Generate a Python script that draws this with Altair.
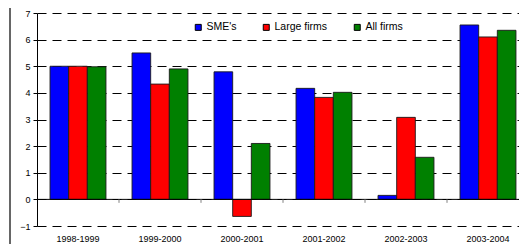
import altair as alt
import pandas as pd

periods = ["1998-1999", "1999-2000", "2000-2001", "2001-2002", "2002-2003", "2003-2004"]
series = ["SME's", "Large firms", "All firms"]
sme = [5.0, 5.5, 4.79, 4.17, 0.15, 6.55]
large = [5.0, 4.33, -0.64, 3.83, 3.08, 6.1]
all_firms = [4.98, 4.9, 2.1, 4.02, 1.58, 6.35]
colors = ["#0000FF", "#FF0000", "#008000"]
y_ticks = [-1, 0, 1, 2, 3, 4, 5, 6, 7]

rows = []
for name, vals in zip(series, [sme, large, all_firms]):
    for p, v in zip(periods, vals):
        rows.append({"period": p, "series": name, "value": v})
df = pd.DataFrame(rows)

FONT = "Liberation Sans"
xscale = alt.Scale(domain=periods, range=[0, 492], paddingInner=0, paddingOuter=0)
yscale = alt.Scale(domain=[-1, 7], nice=False, zero=False)
xaxis = alt.Axis(title=None, labelAngle=0, domain=False, ticks=False,
                 labelFontSize=9, labelPadding=8, labelColor="black", labelFont=FONT)
yaxis = alt.Axis(title=None, values=y_ticks, tickCount=9, grid=True, gridColor="black",
                 gridDash=[9, 6], gridWidth=1, domainColor="black", tickColor="black",
                 tickSize=4, labelPadding=3, labelFontSize=9, labelColor="black",
                 labelFont=FONT, format="d", labelOverlap=False)

bars = alt.Chart(df).mark_bar(stroke="#1a1a1a", strokeWidth=0.9).encode(
    x=alt.X("period:N", scale=xscale, sort=periods, axis=xaxis),
    xOffset=alt.XOffset("series:N", sort=series,
                        scale=alt.Scale(domain=series, paddingInner=0, paddingOuter=0.7)),
    y=alt.Y("value:Q", scale=yscale, axis=yaxis),
    color=alt.Color("series:N", sort=series, scale=alt.Scale(domain=series, range=colors),
                    legend=alt.Legend(title=None, orient="none", legendX=156, legendY=9,
                                      direction="horizontal", symbolType="square",
                                      symbolSize=36, symbolStrokeColor="black",
                                      symbolStrokeWidth=1, labelFontSize=10.5, labelFont=FONT,
                                      labelColor="black", labelOffset=3, columnPadding=24,
                                      padding=0)),
)

zero = alt.Chart(pd.DataFrame({"value": [0]})).mark_rule(color="black", strokeWidth=1).encode(
    y=alt.Y("value:Q", scale=yscale, axis=yaxis)
)

tick_df = pd.DataFrame({"period": periods[1:], "value": [0] * 5, "y1": [-0.13] * 5})
cat_ticks = alt.Chart(tick_df).mark_rule(color="#808080", strokeWidth=1).encode(
    x=alt.X("period:N", scale=xscale, sort=periods, bandPosition=0, axis=xaxis),
    y=alt.Y("value:Q", scale=yscale, axis=yaxis),
    y2="y1:Q",
)

frame = alt.Chart(pd.DataFrame({"a": [0]})).mark_rule(color="#333333", strokeWidth=1.5, clip=False).encode(
    x=alt.value(-27), y=alt.value(-5), y2=alt.value(231)
)

chart = alt.layer(bars, zero, cat_ticks, frame).properties(
    width=482, height=213,
    autosize=alt.AutoSizeParams(type="none"),
    padding={"left": 29, "top": 5, "right": 0, "bottom": 18},
).configure(background="white", font=FONT).configure_view(stroke=None)

chart.save("out.html", embed_options={"renderer": "svg", "actions": False})
